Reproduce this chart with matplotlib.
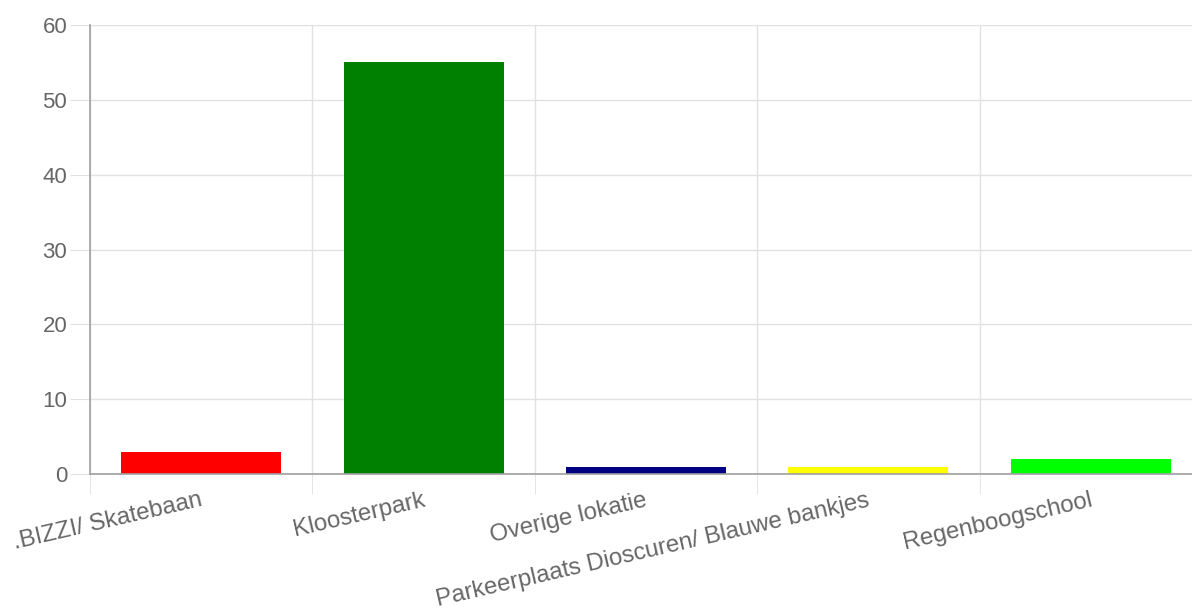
import matplotlib
matplotlib.use("Agg")
import matplotlib.pyplot as plt
import numpy as np

plt.rcParams["font.family"] = ["Liberation Sans", "DejaVu Sans"]

categories = [".BIZZI/ Skatebaan", "Kloosterpark", "Overige lokatie",
              "Parkeerplaats Dioscuren/ Blauwe bankjes", "Regenboogschool"]
values = [3, 55, 1, 1, 2]
colors = ["#ff0000", "#008000", "#000080", "#ffff00", "#00ff00"]
y_ticks = [0, 10, 20, 30, 40, 50, 60]

W, H = 1192, 615
fig = plt.figure(figsize=(W / 100, H / 100), dpi=100)
ax = fig.add_axes([90 / W, 1 - 474 / H, (1202 - 90) / W, (474 - 25) / H])

x = np.arange(len(categories))
ax.bar(x, values, width=0.72, color=colors, zorder=3)

grid_c = "#e1e1e1"
axis_c = "#a0a0a0"
text_c = "#666666"

ax.set_xlim(-0.5, len(categories) - 0.5)
ax.set_ylim(0, 60)
ax.set_yticks(y_ticks)
ax.set_yticklabels([str(v) for v in y_ticks])
ax.yaxis.grid(True, color=grid_c, linewidth=1, zorder=0)
ax.set_xticks(x)
ax.set_xticks(np.arange(len(categories) + 1) - 0.5, minor=True)
ax.xaxis.grid(True, which="minor", color=grid_c, linewidth=1, zorder=0)
ax.set_xticklabels([])

ax.tick_params(axis="y", length=14.4, color=grid_c, labelcolor=text_c,
               labelsize=16, pad=2)
ax.tick_params(axis="x", which="major", length=0)
ax.tick_params(axis="x", which="minor", length=14.4, color=grid_c)

for s in ["top", "right"]:
    ax.spines[s].set_visible(False)
for s in ["left", "bottom"]:
    ax.spines[s].set_color(axis_c)
    ax.spines[s].set_linewidth(1.2)
    ax.spines[s].set_zorder(4)

for xi, label in zip(x, categories):
    ax.annotate(label, xy=(xi, 0), xycoords=("data", "axes fraction"),
                xytext=(-1, -11), textcoords="offset points",
                rotation=13, rotation_mode="anchor", ha="right", va="top",
                color=text_c, fontsize=17.3, annotation_clip=False)

fig.savefig("out.png", dpi=100)
